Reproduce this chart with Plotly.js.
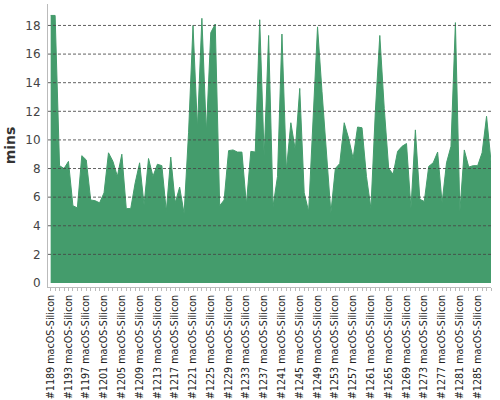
<!DOCTYPE html>
<html>
<head>
<meta charset="utf-8">
<script src="https://cdn.plot.ly/plotly-3.0.1.min.js"></script>
<style>
  html, body { margin: 0; padding: 0; background: white; }
  #chart { width: 500px; height: 400px; }
</style>
</head>
<body>
<div id="chart"></div>
<script>
// build numbers shown on the x axis (one point per build)
const firstBuild = 1189;
const buildCount = 100;
const buildLabels = [];
for (let i = 0; i < buildCount; i++) {
    buildLabels.push('#' + (firstBuild + i) + ' macOS-Silicon');
}

// duration in minutes
const durations = [
    18.7, 18.7, 8.2, 8.0, 8.5, 5.4, 5.25, 8.9, 8.6, 5.8,
    5.75, 5.6, 6.3, 9.1, 8.5, 7.45, 9.0, 5.2, 5.2, 7.0,
    8.4, 5.45, 8.7, 7.45, 8.3, 8.2, 5.0, 8.8, 5.6, 6.7,
    4.85, 10.5, 18.0, 10.8, 18.5, 10.5, 17.5, 18.1, 5.4, 5.8,
    9.25, 9.3, 9.15, 9.15, 5.5, 9.2, 9.15, 18.4, 8.85, 17.3,
    5.35, 7.45, 17.4, 7.9, 11.2, 9.3, 13.6, 6.3, 5.0, 11.5,
    17.9, 13.4, 9.0, 4.9, 8.0, 8.35, 11.2, 10.1, 8.7, 10.9,
    10.85, 7.45, 5.2, 12.0, 17.3, 12.2, 8.0, 7.6, 9.2, 9.55,
    9.75, 5.2, 10.7, 5.85, 5.7, 8.15, 8.4, 9.15, 5.6, 8.4,
    9.55, 18.2, 5.0, 9.3, 8.1, 8.2, 8.2, 9.1, 11.65, 8.5
];

// y grid values (every 2 minutes)
const yGrid = [2, 4, 6, 8, 10, 12, 14, 16, 18];

// only every 4th build gets a label, every build gets a tick
const tickText = buildLabels.map((l, i) => (i % 4 === 0 ? l : ''));

const trace = {
    x: buildLabels,
    y: durations,
    type: 'scatter',
    mode: 'lines',
    fill: 'tozeroy',
    fillcolor: '#449c6c',
    line: { color: '#449c6c', width: 1 },
    hoverinfo: 'x+y'
};

// dashed grid drawn over the area, like the original
const gridShapes = yGrid.map(v => ({
    type: 'line',
    xref: 'paper', x0: 0, x1: 1,
    yref: 'y', y0: v, y1: v,
    layer: 'above',
    line: { color: 'rgba(70,70,70,0.85)', width: 1, dash: '3px,2px' }
}));

const layout = {
    width: 500,
    height: 400,
    margin: { l: 48, r: 9, t: 4, b: 113 },
    paper_bgcolor: 'white',
    plot_bgcolor: 'white',
    showlegend: false,
    font: { family: 'DejaVu Sans, sans-serif', color: '#333' },
    xaxis: {
        type: 'category',
        range: [-0.6, buildCount - 1],
        tickmode: 'array',
        tickvals: buildLabels,
        ticktext: tickText,
        tickangle: -90,
        ticks: 'outside',
        ticklen: 3,
        tickcolor: '#bbb',
        tickfont: { size: 9.6, color: '#222', family: 'DejaVu Sans, sans-serif' },
        showgrid: false,
        showline: true,
        linecolor: '#bbb',
        linewidth: 1,
        zeroline: false,
        fixedrange: true
    },
    yaxis: {
        range: [-0.28, 19.5],
        dtick: 2,
        tick0: 0,
        showgrid: false,
        showline: true,
        linecolor: '#bbb',
        linewidth: 1,
        zeroline: false,
        ticks: 'outside',
        ticklen: 4,
        tickcolor: 'rgba(0,0,0,0)',
        tickfont: { size: 12, color: '#444', family: 'DejaVu Sans, sans-serif' },
        title: {
            text: '<b>mins</b>',
            standoff: 6,
            font: { size: 14, color: '#333', family: 'DejaVu Sans, sans-serif' }
        },
        fixedrange: true
    },
    shapes: gridShapes
};

Plotly.newPlot('chart', [trace], layout, { displayModeBar: false, staticPlot: true });
</script>
</body>
</html>
